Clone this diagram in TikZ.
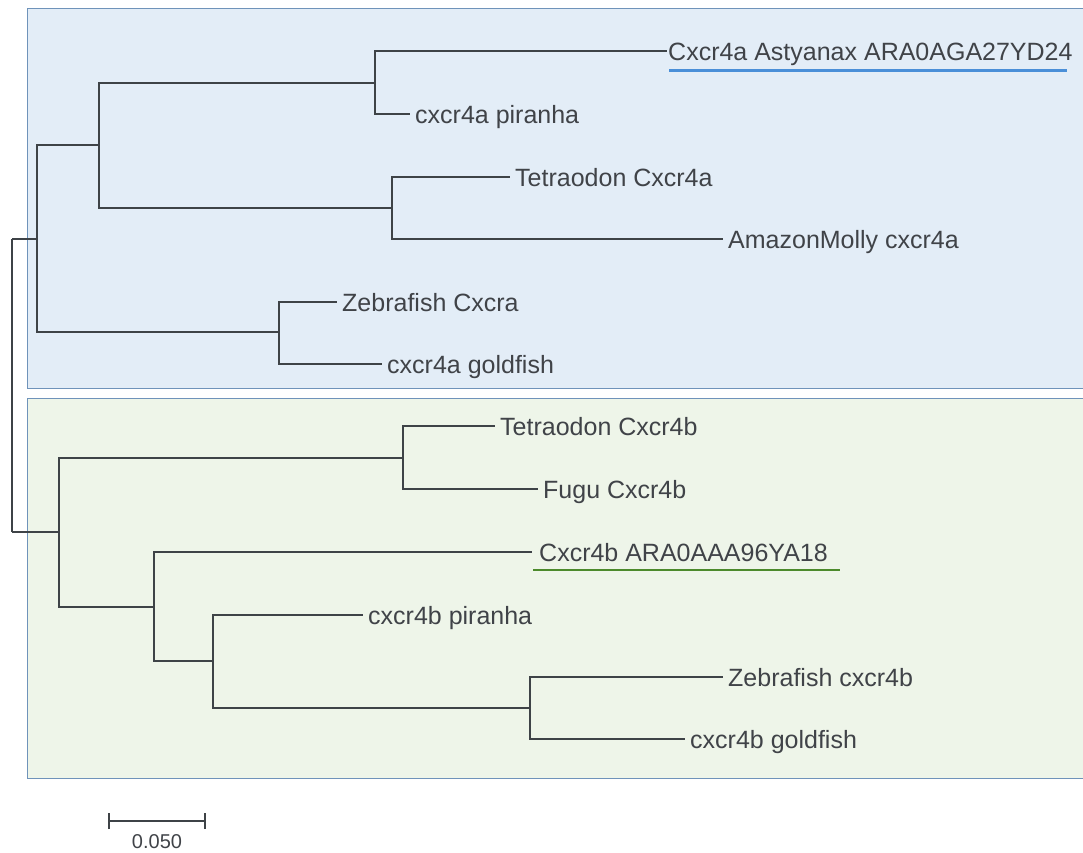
\documentclass[tikz,border=0pt]{standalone}
\usepackage{fontspec}
\setmainfont{Liberation Sans}
\definecolor{txt}{HTML}{404348}
\definecolor{branch}{HTML}{3E4347}
\definecolor{boxline}{HTML}{6F93BA}
\definecolor{bluefill}{HTML}{E3EDF7}
\definecolor{greenfill}{HTML}{EEF5E9}
\definecolor{ulblue}{HTML}{4A8FD8}
\definecolor{ulgreen}{HTML}{4C8A2C}
\tikzset{
  br/.style={draw=branch, line width=1.5pt},
  leaf/.style={anchor=west, inner xsep=5pt, inner ysep=0pt, text height=23pt, text depth=5pt, text=txt, font=\fontsize{25}{29}\selectfont},
  clade/.style={draw=boxline, line width=1pt},
}
\begin{document}
\begin{tikzpicture}[x=1pt,y=-1pt]
\useasboundingbox (0,0) rectangle (1083,852);
% clade boxes
\node[clade, fill=bluefill, anchor=north west, minimum width=1056pt, minimum height=380pt, inner sep=0pt] (boxA) at (27,8) {};
\node[clade, fill=greenfill, anchor=north west, minimum width=1056pt, minimum height=380pt, inner sep=0pt] (boxB) at (27,398) {};
% internal nodes
\coordinate (root) at (12,239);
\coordinate (rootb) at (12,532);
\coordinate (a0) at (37,239);
\coordinate (a1) at (99,145);
\coordinate (a2) at (375,83);
\coordinate (a3) at (392,208);
\coordinate (a4) at (279,332);
\coordinate (b0) at (59,532);
\coordinate (b1) at (403,458);
\coordinate (b2) at (154,607);
\coordinate (b3) at (213,661);
\coordinate (b4) at (530,708);
% leaf tips
\coordinate (t1) at (667,51);
\coordinate (t2) at (410,114);
\coordinate (t3) at (510,177);
\coordinate (t4) at (723,239);
\coordinate (t5) at (337,302);
\coordinate (t6) at (382,364);
\coordinate (t7) at (495,426);
\coordinate (t8) at (538,489);
\coordinate (t9) at (532,552);
\coordinate (t10) at (363,615);
\coordinate (t11) at (723,677);
\coordinate (t12) at (685,739);
% labels
\node[leaf, inner xsep=1pt] (l1) at (t1) {Cxcr4a Astyanax ARA0AGA27YD24};
\node[leaf] (l2) at (t2) {cxcr4a piranha};
\node[leaf] (l3) at (t3) {Tetraodon Cxcr4a};
\node[leaf] (l4) at (t4) {AmazonMolly cxcr4a};
\node[leaf] (l5) at (t5) {Zebrafish Cxcra};
\node[leaf] (l6) at (t6) {cxcr4a goldfish};
\node[leaf] (l7) at (t7) {Tetraodon Cxcr4b};
\node[leaf] (l8) at (t8) {Fugu Cxcr4b};
\node[leaf, inner xsep=7pt] (l9) at (t9) {Cxcr4b ARA0AAA96YA18};
\node[leaf] (l10) at (t10) {cxcr4b piranha};
\node[leaf] (l11) at (t11) {Zebrafish cxcr4b};
\node[leaf] (l12) at (t12) {cxcr4b goldfish};
% branches
\draw[br] (root) -- (rootb);
\draw[br] (root) -- (a0);
\draw[br] (rootb) -- (b0);
\draw[br] (a0) |- (a1);
\draw[br] (a0) |- (a4);
\draw[br] (a1) |- (a2);
\draw[br] (a1) |- (a3);
\draw[br] (a2) |- (t1);
\draw[br] (a2) |- (t2);
\draw[br] (a3) |- (t3);
\draw[br] (a3) |- (t4);
\draw[br] (a4) |- (t5);
\draw[br] (a4) |- (t6);
\draw[br] (b0) |- (b1);
\draw[br] (b0) |- (b2);
\draw[br] (b1) |- (t7);
\draw[br] (b1) |- (t8);
\draw[br] (b2) |- (t9);
\draw[br] (b2) |- (b3);
\draw[br] (b3) |- (t10);
\draw[br] (b3) |- (b4);
\draw[br] (b4) |- (t11);
\draw[br] (b4) |- (t12);
% underlines
\coordinate (u1a) at (669,70.5);
\coordinate (u1b) at (1067,70.5);
\coordinate (u9a) at (533,570);
\coordinate (u9b) at (840,570);
\draw[draw=ulblue, line width=2.5pt] (u1a) -- (u1b);
\draw[draw=ulgreen, line width=2.5pt] (u9a) -- (u9b);
% scale bar
\coordinate (s1) at (109,821);
\coordinate (s2) at (205,821);
\draw[br] (s1) -- (s2);
\draw[br] ([yshift=-8pt]s1) -- ([yshift=8pt]s1);
\draw[br] ([yshift=-8pt]s2) -- ([yshift=8pt]s2);
\node[text=txt, font=\fontsize{20}{22}\selectfont, inner sep=0pt] (scale) at (157,842) {0.050};
\end{tikzpicture}
\end{document}
